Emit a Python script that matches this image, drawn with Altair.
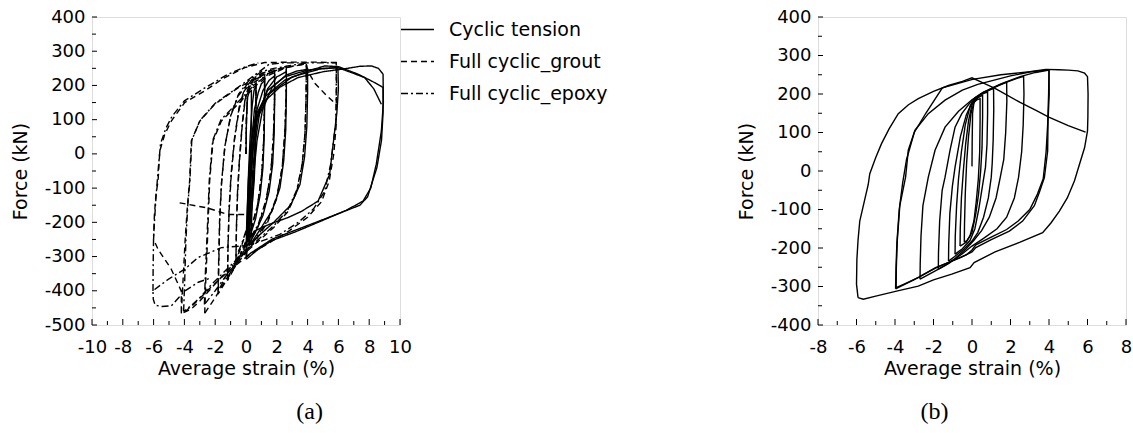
import altair as alt
import pandas as pd

FONT = "DejaVu Sans"

# ---------------- Panel (a) data : (average strain %, force kN) ----------------
series_names = ["Cyclic tension", "Full cyclic_grout", "Full cyclic_epoxy"]

tension_cycles = [
    [(0.0, 0), (0.03, 100), (0.1, 165), (0.2, 180), (0.35, 185), (0.35, 120), (0.32, 0), (0.25, -100), (0.15, -180), (0.05, -230)],
    [(0.05, -230), (0.1, -150), (0.17, -50), (0.27, 50), (0.4, 140), (0.52, 185), (0.65, 200), (0.65, 130), (0.62, 20), (0.53, -80), (0.38, -160), (0.2, -220), (0.08, -245)],
    [(0.08, -245), (0.14, -160), (0.24, -60), (0.37, 40), (0.55, 130), (0.8, 180), (1.0, 205), (1.21, 215), (1.21, 150), (1.18, 50), (1.1, -40), (0.92, -120), (0.62, -190), (0.3, -235), (0.12, -258)],
    [(0.12, -258), (0.2, -170), (0.32, -60), (0.47, 40), (0.72, 130), (1.1, 185), (1.5, 215), (1.86, 228), (1.86, 160), (1.83, 60), (1.73, -30), (1.5, -110), (1.1, -180), (0.6, -230), (0.22, -262)],
    [(0.22, -262), (0.3, -170), (0.42, -60), (0.62, 40), (0.92, 130), (1.4, 190), (2.0, 225), (2.62, 240), (2.62, 170), (2.58, 70), (2.45, -20), (2.2, -100), (1.7, -165), (1.0, -215), (0.32, -262)],
    [(0.32, -262), (0.38, -170), (0.5, -60), (0.72, 40), (1.08, 130), (1.7, 195), (2.6, 230), (3.3, 242), (4.0, 247), (4.0, 180), (3.95, 80), (3.8, -10), (3.5, -90), (2.9, -150), (1.8, -200), (0.8, -240), (0.2, -268)],
    [(0.2, -268), (0.25, -180), (0.33, -70), (0.5, 30), (0.8, 120), (1.4, 185), (2.5, 225), (4.0, 245), (5.0, 250), (5.97, 252), (6.0, 190), (5.9, 120), (5.76, 67), (5.43, -60), (4.68, -138), (3.6, -168), (2.73, -186), (1.5, -206), (0.56, -225), (0.1, -255)],
    [(0.1, -255), (0.15, -160), (0.25, -60), (0.35, 38), (0.7, 110), (1.21, 154), (2.2, 195), (3.38, 223), (5.0, 240), (6.6, 250), (7.4, 256), (8.14, 257), (8.6, 250), (8.9, 233), (8.92, 150), (8.79, 67), (8.46, -30), (8.1, -100), (7.6, -138), (6.5, -165), (4.89, -196), (3.2, -228), (1.64, -254), (0.7, -282), (0.02, -308)],
    [(0.02, -308), (0.0, -290), (0.05, -200), (0.15, -80), (0.3, 20), (0.6, 110), (1.3, 170), (2.5, 215), (3.9, 240), (5.1, 257), (6.0, 255), (7.27, 233), (8.2, 212), (8.9, 194), (8.9, 120), (8.8, 40), (8.5, -40), (7.9, -125), (7.4, -150), (5.0, -192), (1.7, -249), (0.3, -290), (0.05, -300)],
    [(0.05, -300), (0.1, -200), (0.2, -90), (0.35, 10), (0.7, 100), (1.5, 175), (3.0, 225), (4.8, 248), (5.97, 252), (7.0, 235), (7.7, 223), (8.3, 190), (8.79, 145)],
]

grout_cycles = [
    [(0.0, 0), (0.03, 100), (0.1, 170), (0.3, 195), (0.65, 205), (0.64, 120), (0.58, 20), (0.45, -80), (0.25, -170), (0.0, -230), (-0.3, -270), (-0.65, -310)],
    [(-0.65, -310), (-0.62, -220), (-0.55, -120), (-0.42, -20), (-0.25, 80), (-0.05, 160), (0.2, 195), (0.6, 212), (1.21, 225), (1.2, 140), (1.15, 40), (1.02, -60), (0.75, -150), (0.35, -220), (-0.1, -270), (-0.6, -320), (-1.2, -370)],
    [(-1.2, -370), (-1.17, -280), (-1.1, -170), (-0.97, -70), (-0.75, 40), (-0.45, 130), (-0.1, 185), (0.5, 215), (1.2, 232), (1.86, 240), (1.85, 150), (1.78, 50), (1.62, -50), (1.3, -140), (0.8, -210), (0.2, -260), (-0.5, -310), (-1.2, -365), (-1.82, -410)],
    [(-1.82, -410), (-1.78, -320), (-1.72, -200), (-1.6, -90), (-1.38, 20), (-1.0, 110), (-0.5, 170), (0.2, 210), (1.0, 235), (1.8, 246), (2.62, 252), (2.6, 160), (2.52, 60), (2.35, -40), (2.0, -130), (1.4, -200), (0.6, -255), (-0.3, -305), (-1.2, -360), (-2.0, -420), (-2.68, -466)],
    [(-2.68, -466), (-2.62, -380), (-2.5, -250), (-2.36, -79), (-2.14, 38), (-1.6, 96), (-0.52, 145), (0.5, 195), (1.5, 230), (2.6, 252), (3.92, 263), (3.9, 160), (3.83, 60), (3.65, -30), (3.3, -110), (2.7, -170), (1.8, -215), (0.8, -255), (-0.2, -295), (-1.2, -340), (-2.2, -390), (-3.0, -430), (-3.6, -455), (-4.2, -466)],
    [(-4.2, -466), (-4.1, -380), (-3.95, -250), (-3.8, -150), (-3.66, -79), (-3.55, 38), (-3.0, 96), (-2.03, 145), (-0.52, 193), (1.0, 230), (2.5, 252), (3.92, 264), (4.03, 240), (4.5, 205), (5.2, 172), (5.86, 145), (5.85, 80), (5.7, 0), (5.4, -80), (4.9, -140), (4.0, -185), (2.8, -225), (1.5, -260), (0.2, -295), (-1.2, -345), (-2.4, -395), (-3.4, -440), (-4.0, -462), (-4.2, -464), (-4.2, -401), (-4.85, -337), (-5.71, -279), (-6.0, -250)],
    [(-6.0, -250), (-5.95, -180), (-5.85, -120), (-5.71, -79), (-5.6, 8), (-5.28, 57), (-4.85, 96), (-3.98, 150), (-2.68, 184), (-1.5, 220), (-0.08, 252), (1.21, 267), (3.0, 268), (4.5, 268), (5.86, 267), (5.88, 200), (5.86, 140)],
    [(-4.31, -143), (-2.5, -158), (-1.17, -177), (-0.08, -177)],
]

epoxy_cycles = [
    [(0.0, 0), (0.03, 110), (0.1, 175), (0.3, 200), (0.65, 210), (0.64, 120), (0.58, 20), (0.45, -80), (0.25, -165), (0.0, -225), (-0.3, -265), (-0.65, -300)],
    [(-0.65, -300), (-0.62, -210), (-0.55, -110), (-0.42, -10), (-0.25, 85), (-0.05, 165), (0.2, 200), (0.6, 218), (1.21, 230), (1.2, 140), (1.15, 40), (1.02, -60), (0.75, -150), (0.35, -215), (-0.1, -265), (-0.6, -315), (-1.2, -360)],
    [(-1.2, -360), (-1.17, -270), (-1.1, -160), (-0.97, -60), (-0.75, 45), (-0.45, 135), (-0.1, 190), (0.5, 222), (1.2, 238), (1.86, 245), (1.85, 150), (1.78, 50), (1.62, -50), (1.3, -135), (0.8, -205), (0.2, -255), (-0.5, -300), (-1.2, -350), (-1.8, -400)],
    [(-1.8, -400), (-1.76, -310), (-1.7, -190), (-1.58, -80), (-1.36, 25), (-0.98, 115), (-0.48, 175), (0.2, 215), (1.0, 240), (1.8, 250), (2.62, 255), (2.6, 160), (2.52, 60), (2.35, -40), (2.0, -125), (1.4, -195), (0.6, -250), (-0.3, -300), (-1.2, -350), (-2.0, -400), (-2.7, -440)],
    [(-2.7, -440), (-2.64, -350), (-2.52, -230), (-2.38, -75), (-2.16, 40), (-1.62, 100), (-0.55, 150), (0.5, 200), (1.5, 235), (2.6, 256), (3.92, 266), (3.9, 160), (3.83, 60), (3.65, -30), (3.3, -105), (2.7, -165), (1.8, -210), (0.8, -250), (-0.2, -290), (-1.2, -335), (-2.2, -380), (-3.0, -420), (-3.6, -445), (-4.05, -460)],
    [(-4.05, -460), (-3.98, -370), (-3.9, -250), (-3.78, -150), (-3.64, -75), (-3.52, 40), (-2.98, 98), (-2.0, 148), (-0.5, 195), (0.8, 238), (1.5, 262), (2.5, 266), (4.0, 266), (5.0, 266), (5.86, 266), (5.86, 180), (5.84, 90), (5.76, 67), (5.5, -30), (5.1, -110), (4.4, -160), (3.4, -200), (2.2, -235), (1.0, -255), (0.0, -268), (-1.6, -274), (-3.12, -303), (-3.98, -337), (-5.0, -365), (-5.93, -396), (-6.04, -401), (-6.02, -425), (-5.9, -442), (-5.5, -446), (-4.85, -444), (-3.98, -401), (-3.1, -375), (-2.25, -362)],
    [(-6.04, -401), (-6.03, -330), (-6.0, -240), (-5.85, -130), (-5.71, -50), (-5.55, 30), (-5.2, 75), (-4.8, 110), (-4.0, 155), (-2.7, 192), (-1.2, 232), (0.0, 255), (0.8, 266)],
]

# ---------------- Panel (b) data ----------------
b_cycles = [
    [(0.0, 12), (0.01, 80), (0.03, 150), (0.1, 178), (0.25, 185), (0.42, 188), (0.42, 130), (0.4, 50), (0.33, -20), (0.22, -80), (0.1, -130), (-0.1, -168), (-0.25, -180), (-0.4, -185)],
    [(-0.4, -185), (-0.39, -140), (-0.35, -60), (-0.28, 20), (-0.18, 90), (-0.05, 150), (0.1, 178), (0.3, 190), (0.55, 197), (0.55, 140), (0.52, 60), (0.45, 0), (0.34, -60), (0.2, -110), (0.0, -160), (-0.3, -185), (-0.62, -195)],
    [(-0.62, -195), (-0.61, -150), (-0.55, -70), (-0.45, 0), (-0.33, 70), (-0.18, 130), (0.0, 172), (0.2, 190), (0.5, 200), (0.81, 205), (0.81, 150), (0.78, 70), (0.7, 10), (0.54, -40), (0.35, -100), (0.15, -150), (-0.1, -180), (-0.5, -202), (-0.88, -216)],
    [(-0.88, -216), (-0.87, -170), (-0.8, -90), (-0.7, -20), (-0.55, 50), (-0.35, 120), (-0.1, 168), (0.15, 190), (0.6, 205), (1.12, 214), (1.13, 160), (1.1, 80), (1.05, 20), (1.0, -16), (0.85, -70), (0.6, -120), (0.3, -160), (0.0, -182), (-0.4, -202), (-0.9, -222), (-1.22, -234)],
    [(-1.22, -234), (-1.21, -190), (-1.15, -110), (-1.02, -40), (-0.88, 10), (-0.6, 90), (-0.3, 145), (0.0, 178), (0.4, 198), (1.0, 214), (1.4, 223), (1.8, 231), (1.81, 180), (1.75, 100), (1.65, 30), (1.47, -16), (1.25, -70), (0.9, -120), (0.5, -155), (0.1, -180), (-0.3, -202), (-0.9, -228), (-1.4, -245), (-1.75, -255)],
    [(-1.75, -255), (-1.74, -210), (-1.68, -130), (-1.55, -50), (-1.4, -16), (-1.14, 54), (-0.88, 114), (-0.53, 149), (0.0, 184), (0.5, 200), (1.02, 214), (1.8, 231), (2.3, 240), (2.68, 246), (2.7, 200), (2.66, 120), (2.58, 50), (2.42, -16), (2.2, -70), (1.8, -120), (1.3, -150), (0.6, -175), (0.0, -195), (-0.5, -215), (-1.2, -240), (-2.0, -262), (-2.7, -281)],
    [(-2.7, -281), (-2.69, -240), (-2.65, -170), (-2.55, -90), (-2.27, -16), (-1.92, 54), (-1.4, 114), (-0.7, 155), (0.0, 185), (0.6, 205), (1.5, 226), (2.5, 245), (3.3, 256), (4.0, 262), (3.98, 200), (3.93, 120), (3.85, 50), (3.7, -20), (3.4, -60), (3.0, -100), (2.4, -130), (1.8, -152), (1.0, -172), (0.2, -192), (0.0, -205), (-0.3, -218), (-1.0, -233), (-1.9, -252), (-2.8, -277), (-3.5, -293), (-3.94, -303)],
    [(-3.94, -303), (-3.93, -250), (-3.88, -180), (-3.75, -90), (-3.45, -16), (-3.31, 54), (-2.96, 106), (-2.27, 149), (-1.4, 184), (-0.5, 210), (0.3, 225), (1.0, 234), (2.0, 247), (3.0, 257), (4.0, 263), (4.01, 200), (3.95, 130), (3.93, 52), (3.76, -17), (3.5, -55), (3.24, -90), (2.63, -130), (1.94, -156), (1.0, -178), (0.2, -199), (0.0, -210), (-0.6, -225), (-1.89, -251), (-3.0, -282), (-3.97, -306)],
    [(-3.97, -306), (-3.95, -255), (-3.9, -185), (-3.78, -100), (-3.6, -30), (-3.4, 30), (-3.0, 100), (-2.4, 150), (-1.54, 216), (0.03, 238), (1.5, 250), (3.0, 258), (3.83, 264), (4.5, 263), (5.0, 262), (5.5, 260), (5.85, 254), (6.0, 245), (6.03, 200), (6.02, 140), (6.0, 104), (5.85, 61), (5.6, 20), (5.32, -26), (4.95, -70), (4.54, -104), (4.1, -135), (3.67, -160), (2.5, -185), (1.2, -210), (0.11, -238), (-0.1, -251), (-1.05, -268), (-2.0, -283), (-2.79, -299), (-3.92, -312), (-5.0, -325), (-5.65, -333), (-5.92, -329)],
    [(-5.92, -329), (-6.0, -294), (-5.98, -230), (-5.92, -180), (-5.83, -130), (-5.6, -80), (-5.39, -35), (-5.31, -7), (-5.0, 35), (-4.7, 71), (-4.3, 110), (-3.83, 149), (-3.3, 172), (-2.79, 188), (-2.0, 207), (-1.22, 222), (-0.5, 233), (0.0, 242), (0.6, 228), (1.22, 214), (2.5, 178), (3.3, 158), (3.99, 140), (5.0, 118), (5.9, 101)],
]

# ---------------- Axis ticks ----------------
a_x_ticks = [-10, -8, -6, -4, -2, 0, 2, 4, 6, 8, 10]
a_x_minor = [-9, -7, -5, -3, -1, 1, 3, 5, 7, 9]
a_y_ticks = [-500, -400, -300, -200, -100, 0, 100, 200, 300, 400]
a_y_minor = [-450, -350, -250, -150, -50, 50, 150, 250, 350]
b_x_ticks = [-8, -6, -4, -2, 0, 2, 4, 6, 8]
b_x_minor = [-7, -5, -3, -1, 1, 3, 5, 7]
b_y_ticks = [-400, -300, -200, -100, 0, 100, 200, 300, 400]
b_y_minor = [-350, -250, -150, -50, 50, 150, 250, 350]


def to_rows(cycles, series):
    rows = []
    for k, cyc in enumerate(cycles):
        for i, (x, y) in enumerate(cyc):
            rows.append({"series": series, "cycle": f"{series}-{k}", "i": i, "strain": x, "force": y})
    return rows


df_a = pd.DataFrame(to_rows(tension_cycles, series_names[0])
                    + to_rows(grout_cycles, series_names[1])
                    + to_rows(epoxy_cycles, series_names[2]))
df_b = pd.DataFrame(to_rows(b_cycles, "Full cyclic"))

W, H = 308, 308


def panel(df, xdom, ydom, xt, xm, yt, ym, caption, legend):
    xs = alt.Scale(domain=xdom, nice=False, zero=False)
    ys = alt.Scale(domain=ydom, nice=False, zero=False)
    common = dict(ticks=False, tickSize=0, domain=False, grid=False,
                  labelFont=FONT, labelFontSize=18, labelColor="black",
                  titleFont=FONT, titleFontSize=19, titleFontWeight="normal", titleColor="black",
                  labelFlush=False, labelOverlap=False, labelExpr="'' + datum.value")
    xaxis = alt.Axis(values=xt, title="Average strain (%)", labelPadding=13, titlePadding=3, **common)
    yaxis = alt.Axis(values=yt, title="Force (kN)", labelPadding=7, titlePadding=14, **common)
    X = lambda f: alt.X(f, type="quantitative", scale=xs, axis=xaxis)
    Y = lambda f: alt.Y(f, type="quantitative", scale=ys, axis=yaxis)

    enc = dict(x=X("strain"), y=Y("force"), detail="cycle:N", order=alt.Order("i:Q"))
    if legend:
        enc["strokeDash"] = alt.StrokeDash(
            "series:N",
            scale=alt.Scale(domain=series_names, range=[[1, 0], [6, 4], [7, 3, 2, 3]]),
            legend=alt.Legend(title=None, orient="none", legendX=W, legendY=-5,
                              symbolType="stroke", symbolSize=1089, symbolStrokeWidth=1.3,
                              symbolStrokeColor="black", labelFont=FONT, labelFontSize=19,
                              labelColor="black", rowPadding=4, labelOffset=14, padding=0))
    lines = alt.Chart(df).mark_line(color="black", strokeWidth=1.4).encode(**enc)

    xmaj = alt.Chart(pd.DataFrame({"v": xt})).mark_rule(color="black", strokeWidth=1).encode(
        x=X("v"), y=alt.value(H), y2=alt.value(H - 6))
    xmin = alt.Chart(pd.DataFrame({"v": xm})).mark_rule(color="black", strokeWidth=1).encode(
        x=X("v"), y=alt.value(H), y2=alt.value(H - 4))
    ymaj = alt.Chart(pd.DataFrame({"v": yt})).mark_rule(color="black", strokeWidth=1).encode(
        y=Y("v"), x=alt.value(0), x2=alt.value(5))
    ymin = alt.Chart(pd.DataFrame({"v": ym})).mark_rule(color="black", strokeWidth=1).encode(
        y=Y("v"), x=alt.value(0), x2=alt.value(4))

    return alt.layer(lines, xmaj, xmin, ymaj, ymin).properties(
        width=W, height=H,
        title=alt.TitleParams(text=caption, orient="bottom", font="Liberation Serif", fontSize=24,
                              fontWeight="normal", color="black", offset=22, anchor="middle",
                              frame="bounds"))


left = panel(df_a, [-10, 10], [-500, 400], a_x_ticks, a_x_minor, a_y_ticks, a_y_minor, "(a)", True)
right = panel(df_b, [-8, 8], [-400, 400], b_x_ticks, b_x_minor, b_y_ticks, b_y_minor, "(b)", False)

chart = alt.hconcat(left, right, spacing=127).resolve_scale(
    strokeDash="independent").resolve_legend(strokeDash="independent").properties(
    padding={"left": 10, "top": 7, "right": 0, "bottom": 0}
).configure_view(stroke="black", strokeWidth=1.3).configure(background="white")

chart.save("out.html", embed_options={"renderer": "svg", "actions": False})
